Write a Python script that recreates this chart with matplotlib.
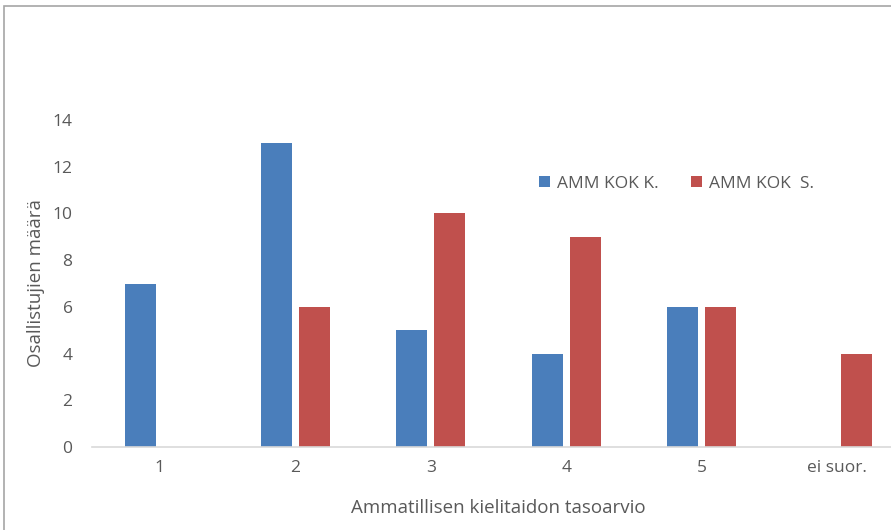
import numpy as np
import matplotlib.pyplot as plt
from matplotlib.patches import Rectangle

# Osallistujat tasoarvion mukaan
categories = ['1', '2', '3', '4', '5', 'ei suor.']
amm_kok_k = [7, 13, 5, 4, 6, 0]
amm_kok_s = [0, 6, 10, 9, 6, 4]

plt.rcParams['font.family'] = ['Open Sans', 'DejaVu Sans']

fig = plt.figure(figsize=(8.91, 5.30), dpi=100)
ax = fig.add_axes([92 / 891, 83 / 530, 813 / 891, 327 / 530])

x = np.arange(len(categories))
w = 0.23
off = 0.14
ax.bar(x - off, amm_kok_k, width=w, color='#4a7ebb', label='AMM KOK K.')
ax.bar(x + off, amm_kok_s, width=w, color='#c0504d', label='AMM KOK  S.')

ax.set_xlim(-0.5, len(categories) - 0.5)
ax.set_ylim(0, 14)
ax.set_yticks(range(0, 15, 2))
ax.set_xticks(x)
ax.set_xticklabels(categories)

for s in ['top', 'right', 'left']:
    ax.spines[s].set_visible(False)
ax.spines['bottom'].set_color('#d9d9d9')
ax.spines['bottom'].set_linewidth(1.2)
ax.tick_params(axis='both', length=0, colors='#595959', labelsize=12.5)
ax.tick_params(axis='y', pad=14)
ax.tick_params(axis='x', pad=9)

ax.set_xlabel('Ammatillisen kielitaidon tasoarvio', fontsize=13.5, color='#595959')
ax.set_ylabel('Osallistujien määrä', fontsize=13.5, color='#595959')
ax.xaxis.set_label_coords(0.5, -0.16)
ax.yaxis.set_label_coords(-0.058, 0.5)

ax.legend(loc='upper left', bbox_to_anchor=(0.531, 0.877), ncol=2, frameon=False,
          fontsize=12.5, labelcolor='#595959', handlelength=0.6, handleheight=0.6,
          handletextpad=0.4, columnspacing=1.9)

# kehys kaavion ympärillä
fig.patches.append(Rectangle((4 / 891, -0.1), 1.2, (524 / 530) + 0.1, transform=fig.transFigure,
                             fill=False, edgecolor='#a6a6a6', linewidth=1.2))

fig.savefig('out.png', dpi=100)
